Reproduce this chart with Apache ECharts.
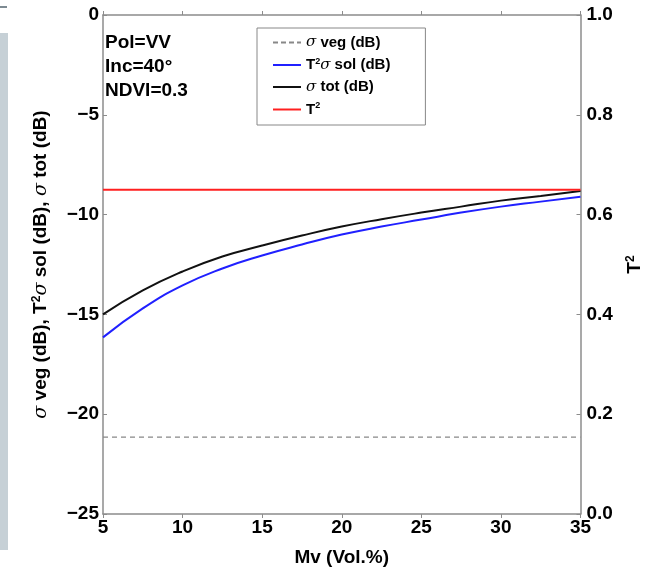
<!DOCTYPE html>
<html><head><meta charset="utf-8">
<script src="https://cdn.jsdelivr.net/npm/echarts@6/dist/echarts.min.js"></script>
<style>html,body{margin:0;padding:0;background:#fff}#c{width:652px;height:572px}</style>
</head><body><div id="c"></div>
<script>
const mv = [5, 7.5, 10, 12.5, 15, 17.5, 20, 22.5, 25, 27.5, 30, 32.5, 35];
const sigmaVeg = [-21.15, -21.15, -21.15, -21.15, -21.15, -21.15, -21.15, -21.15, -21.15, -21.15, -21.15, -21.15, -21.15];
const t2SigmaSol = [-16.15, -14.7, -13.55, -12.7, -12.05, -11.5, -11.0, -10.6, -10.25, -9.9, -9.6, -9.35, -9.1];
const sigmaTot = [-15.0, -13.8, -12.85, -12.1, -11.55, -11.05, -10.6, -10.23, -9.9, -9.6, -9.3, -9.07, -8.82];
const t2 = [0.65, 0.65, 0.65, 0.65, 0.65, 0.65, 0.65, 0.65, 0.65, 0.65, 0.65, 0.65, 0.65];
const leftTicks = [-25, -20, -15, -10, -5, 0];
const rightTicks = [0.0, 0.2, 0.4, 0.6, 0.8, 1.0];
const xTicks = [5, 10, 15, 20, 25, 30, 35];
const annotations = ['Pol=VV', 'Inc=40°', 'NDVI=0.3'];

const FONT = '"Liberation Sans", Arial, sans-serif';
const pair = arr => mv.map((x, i) => [x, arr[i]]);
const chart = echarts.init(document.getElementById('c'));
const axisColor = '#8c8c8c';
const labelStyle = {color: '#000', fontFamily: FONT, fontWeight: 'bold', fontSize: 19};
const solidIcon = 'path://M0,0h28v2h-28z';
const dashIcon = 'path://M0,0h5v2h-5zM8,0h5v2h-5zM16,0h5v2h-5zM24,0h4v2h-4z';

chart.setOption({
  animation: false,
  backgroundColor: '#fff',
  grid: {left: 103, right: 71, top: 15, bottom: 57, containLabel: false},
  graphic: [
    {type: 'rect', shape: {x: 0, y: 33, width: 8, height: 517}, style: {fill: '#c6d0d6'}},
    {type: 'rect', shape: {x: 0, y: 6, width: 7, height: 2}, style: {fill: '#7d8a92'}},
    ...annotations.map((t, i) => ({
      type: 'text', left: 105, top: 33 + i * 24,
      style: {text: t, fill: '#000', font: 'bold 19px ' + FONT}
    }))
  ],
  legend: {
    orient: 'vertical', left: 257, top: 28,
    padding: [7, 35, 8, 16], itemGap: 7, itemWidth: 28, itemHeight: 2,
    borderColor: '#888', borderWidth: 1, backgroundColor: '#fff',
    textStyle: {fontFamily: FONT, fontWeight: 'bold', fontSize: 15, color: '#000',
      rich: {
        s: {fontFamily: '"DejaVu Serif", serif', fontStyle: 'italic', fontWeight: 'normal', fontSize: 15, color: '#000'},
        b: {fontFamily: FONT, fontWeight: 'bold', fontSize: 15, color: '#000'},
        sup: {fontFamily: FONT, fontSize: 9, verticalAlign: 'top', padding: [0, 0, 7, 0], color: '#000', fontWeight: 'bold'}
      }},
    formatter: name => ({
      'veg': '{s|σ}{b| veg (dB)}',
      'sol': '{b|T}{sup|2}{s|σ}{b| sol (dB)}',
      'tot': '{s|σ}{b| tot (dB)}',
      't2': '{b|T}{sup|2}'
    })[name],
    data: [
      {name: 'veg', icon: dashIcon},
      {name: 'sol', icon: solidIcon},
      {name: 'tot', icon: solidIcon},
      {name: 't2', icon: solidIcon}
    ]
  },
  xAxis: [{
    type: 'value', min: 5, max: 35, interval: 5, position: 'bottom',
    name: 'Mv (Vol.%)', nameLocation: 'middle', nameGap: 34,
    nameTextStyle: {color: '#000', fontFamily: FONT, fontWeight: 'bold', fontSize: 19},
    axisLine: {show: true, lineStyle: {color: axisColor, width: 1.5}},
    axisTick: {show: true, inside: true, length: 4, lineStyle: {color: axisColor}},
    axisLabel: Object.assign({margin: 4}, labelStyle),
    splitLine: {show: false}
  }, {
    type: 'value', min: 5, max: 35, interval: 5, position: 'top',
    axisLine: {show: true, lineStyle: {color: axisColor, width: 1.5}},
    axisTick: {show: true, inside: true, length: 4, lineStyle: {color: axisColor}},
    axisLabel: {show: false}, splitLine: {show: false}
  }],
  yAxis: [{
    type: 'value', min: -25, max: 0, interval: 5, position: 'left',
    name: '{s|σ} veg (dB), T{sup|2}{s|σ} sol (dB), {s|σ} tot (dB)',
    nameLocation: 'middle', nameGap: 52, nameRotate: 90,
    nameTextStyle: {color: '#000', fontFamily: FONT, fontWeight: 'bold', fontSize: 19,
      rich: {
        s: {fontFamily: '"DejaVu Serif", serif', fontStyle: 'italic', fontWeight: 'normal', fontSize: 19, color: '#000'},
        sup: {fontFamily: FONT, fontSize: 12, fontWeight: 'bold', verticalAlign: 'top', padding: [0, 0, 8, 0], color: '#000'}
      }},
    axisLine: {show: true, lineStyle: {color: axisColor, width: 1.5}},
    axisTick: {show: true, inside: true, length: 4, lineStyle: {color: axisColor}},
    axisLabel: Object.assign({margin: 4, formatter: v => String(v).replace('-', '\u2212')}, labelStyle),
    splitLine: {show: false}
  }, {
    type: 'value', min: 0, max: 1, interval: 0.2, position: 'right',
    name: 'T{sup|2}', nameLocation: 'middle', nameGap: 44, nameRotate: 90,
    nameTextStyle: {color: '#000', fontFamily: FONT, fontWeight: 'bold', fontSize: 19,
      rich: {sup: {fontFamily: FONT, fontSize: 12, fontWeight: 'bold', verticalAlign: 'top', padding: [0, 0, 8, 0], color: '#000'}}},
    axisLine: {show: true, lineStyle: {color: axisColor, width: 1.5}},
    axisTick: {show: true, inside: true, length: 4, lineStyle: {color: axisColor}},
    axisLabel: Object.assign({margin: 6, formatter: v => v.toFixed(1)}, labelStyle),
    splitLine: {show: false}
  }],
  series: [
    {name: 'veg', type: 'line', data: pair(sigmaVeg), symbol: 'none', showSymbol: false,
     lineStyle: {color: '#888', width: 1.3, type: [5, 4]}, itemStyle: {color: '#888'}},
    {name: 'sol', type: 'line', data: pair(t2SigmaSol), symbol: 'none', smooth: true,
     lineStyle: {color: '#2020ff', width: 2}, itemStyle: {color: '#2020ff'}},
    {name: 'tot', type: 'line', data: pair(sigmaTot), symbol: 'none', smooth: true,
     lineStyle: {color: '#111', width: 2}, itemStyle: {color: '#111'}},
    {name: 't2', type: 'line', yAxisIndex: 1, data: pair(t2), symbol: 'none',
     lineStyle: {color: '#ff2020', width: 2}, itemStyle: {color: '#ff2020'}}
  ]
});
</script></body></html>
